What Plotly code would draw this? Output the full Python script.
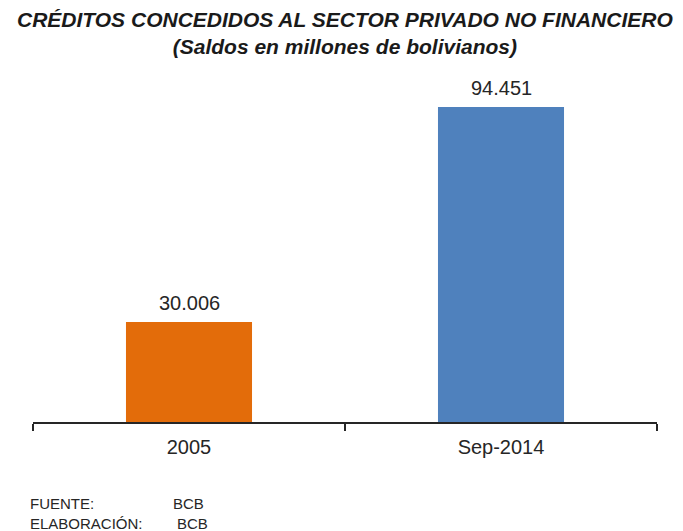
import plotly.graph_objects as go

# Chart data
categories = ["2005", "Sep-2014"]
values = [30006, 94451]
bar_colors = ["#E36C0A", "#4F81BD"]

title_line1 = "CRÉDITOS CONCEDIDOS AL SECTOR PRIVADO NO FINANCIERO"
title_line2 = "(Saldos en millones de bolivianos)"
source_labels = ["FUENTE:", "ELABORACIÓN:"]
source_values = ["BCB", "BCB"]

W, H = 683, 531
ml, mr, mt, mb = 33, 26, 80, 109
plot_w = W - ml - mr
plot_h = H - mt - mb
FONT = "Liberation Sans, Arial, sans-serif"
TXT = "#262626"


def px_x(x):
    return (x - ml) / plot_w


def px_y(y):
    return 1 - (y - mt) / plot_h


fig = go.Figure(
    go.Bar(
        x=categories,
        y=values,
        marker=dict(color=bar_colors, line=dict(width=0)),
        hoverinfo="skip",
    )
)

fig.update_layout(
    width=W,
    height=H,
    margin=dict(l=ml, r=mr, t=mt, b=mb),
    paper_bgcolor="white",
    plot_bgcolor="white",
    separators=",.",
    bargap=0.596,
    showlegend=False,
    font=dict(family=FONT, color=TXT),
)

fig.update_xaxes(
    type="category",
    range=[-0.5, 1.5],
    tickson="boundaries",
    ticks="outside",
    ticklen=7,
    tickwidth=2,
    tickcolor=TXT,
    showline=True,
    linecolor=TXT,
    linewidth=2,
    showgrid=False,
    ticklabelstandoff=6,
    tickfont=dict(family=FONT, size=20, color=TXT),
    fixedrange=True,
)

fig.update_yaxes(
    range=[0, 102550],
    visible=False,
    showgrid=False,
    zeroline=False,
    fixedrange=True,
)

# Value labels above each bar (positioned by category index)
for i, val in enumerate(values):
    fig.add_annotation(
        x=i, y=val, xref="x", yref="y",
        text=f"{val:,}".replace(",", "."),
        xanchor="center", yanchor="bottom", yshift=6,
        showarrow=False,
        font=dict(family=FONT, size=20, color=TXT),
    )

# Title (two lines)
fig.add_annotation(
    text="<b><i>" + title_line1 + "<br>" + title_line2 + "</i></b>",
    xref="paper", yref="paper",
    x=px_x(345), y=px_y(33),
    xanchor="center", yanchor="middle", showarrow=False, align="center",
    font=dict(family=FONT, size=21, color="#1a1a1a"),
)

# Source notes
for i, (lab, val) in enumerate(zip(source_labels, source_values)):
    ypix = 503 + 20 * i
    fig.add_annotation(
        text=lab, xref="paper", yref="paper",
        x=px_x(28), y=px_y(ypix),
        xanchor="left", yanchor="middle", showarrow=False,
        font=dict(family=FONT, size=15, color=TXT),
    )
    fig.add_annotation(
        text=val, xref="paper", yref="paper",
        x=px_x(171 + 4 * i), y=px_y(ypix),
        xanchor="left", yanchor="middle", showarrow=False,
        font=dict(family=FONT, size=15, color=TXT),
    )

fig.write_html("out.html")
